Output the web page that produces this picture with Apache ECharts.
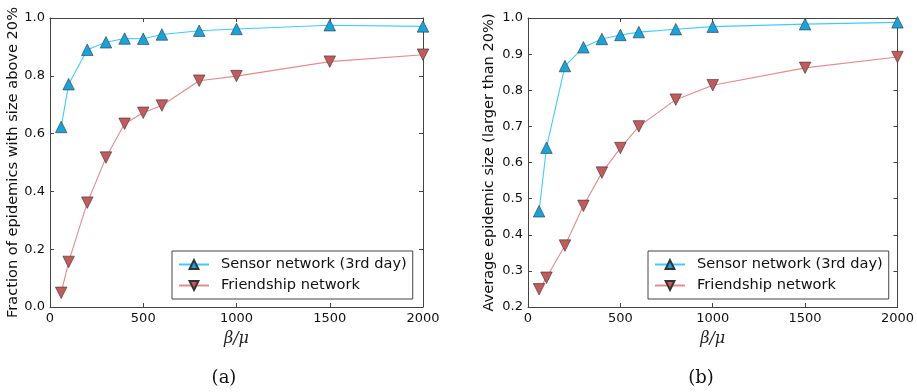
<!DOCTYPE html>
<html>
<head>
<meta charset="utf-8">
<script src="https://cdn.jsdelivr.net/npm/echarts@6/dist/echarts.min.js"></script>
<style>
  html, body { margin: 0; padding: 0; background: #fff; }
  #chart { width: 917px; height: 392px; }
</style>
</head>
<body>
<div id="chart"></div>
<script>
// beta/mu values sampled in both experiments
const betaMu = [60, 100, 200, 300, 400, 500, 600, 800, 1000, 1500, 2000];

// (a) fraction of epidemics reaching more than 20% of the population
const fractionSensor     = [0.623, 0.771, 0.890, 0.916, 0.929, 0.928, 0.943, 0.956, 0.962, 0.975, 0.971];
const fractionFriendship = [0.049, 0.156, 0.361, 0.517, 0.634, 0.672, 0.697, 0.783, 0.799, 0.849, 0.873];

// (b) average size of those large epidemics
const sizeSensor     = [0.465, 0.641, 0.867, 0.919, 0.942, 0.953, 0.961, 0.969, 0.976, 0.983, 0.988];
const sizeFriendship = [0.249, 0.281, 0.370, 0.480, 0.572, 0.640, 0.700, 0.774, 0.814, 0.862, 0.892];

const xTicks = [0, 500, 1000, 1500, 2000];
const seriesNames = ['Sensor network (3rd day)', 'Friendship network'];
const captions = ['(a)', '(b)'];
const yTitles = ['Fraction of epidemics with size above 20%', 'Average epidemic size (larger than 20%)'];

const sansFont = '"DejaVu Sans", sans-serif';
const serifFont = '"DejaVu Serif", "Liberation Serif", serif';
const frame = '#444';

const sensorLine = '#3fcdf8';
const sensorFill = '#16a4de';
const friendLine = '#e28c8c';
const friendFill = '#c55a5a';

const grids = [
  { left: 50, top: 18, width: 373, height: 289 },
  { left: 528, top: 18, width: 372, height: 289 }
];

function pairs(xs, ys) { return xs.map((x, i) => [x, ys[i]]); }

const tickStyle = { show: true, inside: true, length: 4, lineStyle: { color: frame, width: 1 } };
const lineAx = { show: true, onZero: false, lineStyle: { color: frame, width: 1 } };

const xAxes = [];
const yAxes = [];
const yRanges = [
  { min: 0, max: 1, interval: 0.2 },
  { min: 0.2, max: 1, interval: 0.1 }
];
const yNameGap = [27, 31];

for (let g = 0; g < 2; g++) {
  // bottom axis with labels
  xAxes.push({
    type: 'value', gridIndex: g, min: 0, max: 2000, interval: 500,
    position: 'bottom',
    axisLine: lineAx, axisTick: tickStyle, splitLine: { show: false },
    axisLabel: { color: '#111', fontFamily: sansFont, fontSize: 13, margin: 5,
      formatter: v => xTicks.includes(v) ? String(v) : '' },
    name: 'β/μ', nameLocation: 'middle', nameGap: 24,
    nameTextStyle: { fontFamily: serifFont, fontStyle: 'italic', fontSize: 16, color: '#222' }
  });
  // top mirror axis: ticks only
  xAxes.push({
    type: 'value', gridIndex: g, min: 0, max: 2000, interval: 500,
    position: 'top',
    axisLine: lineAx, axisTick: tickStyle, splitLine: { show: false },
    axisLabel: { show: false }
  });
  const r = yRanges[g];
  yAxes.push({
    type: 'value', gridIndex: g, min: r.min, max: r.max, interval: r.interval,
    position: 'left',
    axisLine: lineAx, axisTick: tickStyle, splitLine: { show: false },
    axisLabel: { color: '#111', fontFamily: sansFont, fontSize: 13, margin: 5,
      formatter: v => v.toFixed(1) },
    name: yTitles[g], nameLocation: 'middle', nameGap: yNameGap[g],
    nameTextStyle: { fontFamily: sansFont, fontSize: 14.6, color: '#111' }
  });
  // right mirror axis: ticks only
  yAxes.push({
    type: 'value', gridIndex: g, min: r.min, max: r.max, interval: r.interval,
    position: 'right',
    axisLine: lineAx, axisTick: tickStyle, splitLine: { show: false },
    axisLabel: { show: false }
  });
}

function makeSeries(name, g, data, lineColor, fillColor, rotate) {
  return {
    name, type: 'line', xAxisIndex: g * 2, yAxisIndex: g * 2,
    data, symbol: 'triangle', symbolSize: 11.5, symbolRotate: rotate,
    showSymbol: true, clip: false, animation: false,
    lineStyle: { color: lineColor, width: 1.1 },
    itemStyle: { color: fillColor, borderColor: '#333', borderWidth: 0.6 },
    emphasis: { disabled: true }
  };
}

const series = [
  makeSeries(seriesNames[0], 0, pairs(betaMu, fractionSensor), sensorLine, sensorFill, 0),
  makeSeries(seriesNames[1], 0, pairs(betaMu, fractionFriendship), friendLine, friendFill, 180),
  makeSeries(seriesNames[0], 1, pairs(betaMu, sizeSensor), sensorLine, sensorFill, 0),
  makeSeries(seriesNames[1], 1, pairs(betaMu, sizeFriendship), friendLine, friendFill, 180)
];

function makeLegend(left, top) {
  return {
    left, top, orient: 'vertical',
    data: seriesNames,
    itemWidth: 30, itemHeight: 11, itemGap: 6,
    padding: [6, 6, 6, 6],
    borderColor: frame, borderWidth: 1, backgroundColor: '#fff',
    selectedMode: false,
    textStyle: { fontFamily: sansFont, fontSize: 14.6, color: '#111', padding: [0, 0, 0, 7] }
  };
}

const chart = echarts.init(document.getElementById('chart'), null, { renderer: 'canvas' });
chart.setOption({
  backgroundColor: '#fff',
  animation: false,
  grid: grids,
  xAxis: xAxes,
  yAxis: yAxes,
  legend: [makeLegend(172, 251), makeLegend(648, 251)],
  title: [
    { text: captions[0], left: 219, top: 364, textAlign: 'center',
      textStyle: { fontFamily: serifFont, fontSize: 18, fontWeight: 'normal', color: '#111' } },
    { text: captions[1], left: 696, top: 364, textAlign: 'center',
      textStyle: { fontFamily: serifFont, fontSize: 18, fontWeight: 'normal', color: '#111' } }
  ],
  series
});
</script>
</body>
</html>
